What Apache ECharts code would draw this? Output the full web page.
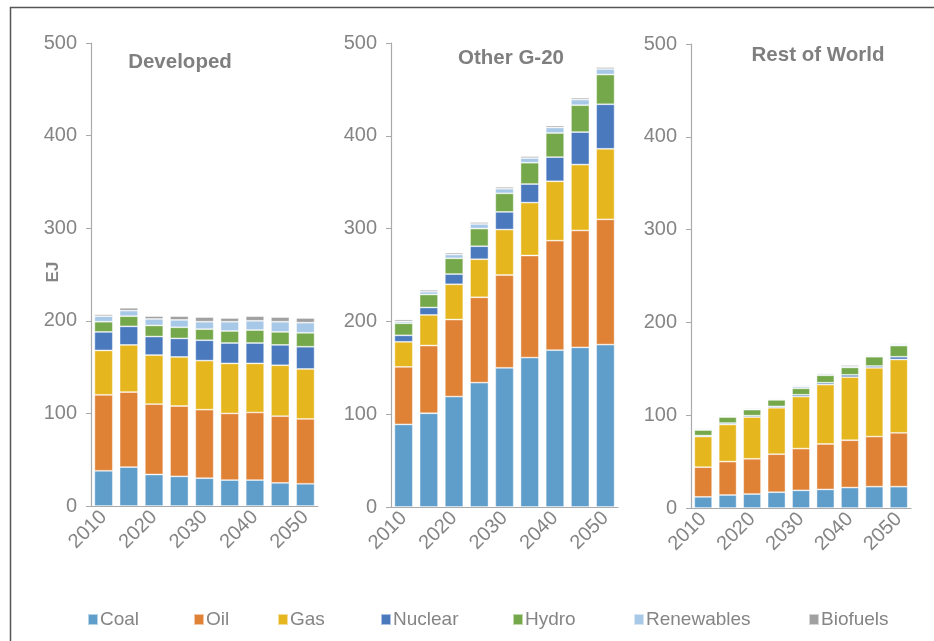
<!DOCTYPE html>
<html>
<head>
<meta charset="utf-8">
<script src="https://cdn.jsdelivr.net/npm/echarts@6/dist/echarts.min.js"></script>
<style>html,body{margin:0;padding:0;background:#fff}#c{width:934px;height:641px}</style>
</head>
<body>
<div id="c"></div>
<script>
const years = ['2010','2015','2020','2025','2030','2035','2040','2045','2050'];
const fuels = ['Coal','Oil','Gas','Nuclear','Hydro','Renewables','Biofuels'];
const panelTitles = ['Developed','Other G-20','Rest of World'];
const yTicks = [0,100,200,300,400,500];

// Developed
const devCoal = [38,42,34,32,30,28,28,25,24];
const devOil = [82,81,76,76,74,72,73,72,70];
const devGas = [48,51,53,53,53,54,53,55,54];
const devNuclear = [20,20,20,20,22,22,22,22,24];
const devHydro = [11,11,12,12,12,13,14,14,15];
const devRenew = [6,6,7,8,8,10,10,11,11];
const devBio = [2,3,3,4,5,4,5,5,5];

// Other G-20
const g20Coal = [89,101,119,134,150,161,169,172,175];
const g20Oil = [62,73,83,92,100,110,118,126,135];
const g20Gas = [27,33,38,41,49,57,64,71,76];
const g20Nuclear = [7,8,11,14,19,20,26,35,48];
const g20Hydro = [13,14,17,19,20,23,26,29,32];
const g20Renew = [2,3,4,5,5,5,6,6,6];
const g20Bio = [2,2,2,2,2,2,2,2,2];

// Rest of World
const rowCoal = [12,14,15,17,19,20,22,23,23];
const rowOil = [32,36,38,41,45,49,51,54,58];
const rowGas = [33,40,45,50,56,64,68,74,79];
const rowNuclear = [1,1.5,1.5,1.5,2,2,2.5,2,3];
const rowHydro = [6,6.5,6.5,7,7,8,8,10,12];
const rowRenew = [1,1,1,1,2,1.5,1.5,1,1.5];
const rowBio = [1,1,1,1,1,1,1.5,1,1];

const panels = [
  [devCoal,devOil,devGas,devNuclear,devHydro,devRenew,devBio],
  [g20Coal,g20Oil,g20Gas,g20Nuclear,g20Hydro,g20Renew,g20Bio],
  [rowCoal,rowOil,rowGas,rowNuclear,rowHydro,rowRenew,rowBio]
];
const colors = ['#5f9dca','#df8236','#e6b61f','#4a79be','#75a84b','#a8c8e7','#a0a0a0'];

const FONT = '"Liberation Sans", Arial, sans-serif';
const grey = '#858585';
const grids = [
  {left: 91, top: 43, width: 227, height: 463},
  {left: 391, top: 43, width: 227, height: 464},
  {left: 691, top: 44, width: 220, height: 464}
];
const titlePos = [[180,62],[511,58],[818,55]];
const legendX = [87,193,277,380,512,633,808];

const xAxes = grids.map((g,i)=>({
  type:'category', gridIndex:i, data: years,
  axisLine:{lineStyle:{color:'#aaaaaa', width:1.2}},
  axisTick:{alignWithLabel:true, interval:0, length:5, lineStyle:{color:'#aaaaaa'}},
  axisLabel:{interval:1, rotate:45, fontSize:20, color:grey, fontFamily:FONT, margin:8}
}));
const yAxes = grids.map((g,i)=>({
  type:'value', gridIndex:i, min:yTicks[0], max:yTicks[yTicks.length-1], interval:100,
  splitLine:{show:false},
  axisLine:{show:true, lineStyle:{color:'#aaaaaa', width:1.2}},
  axisTick:{show:true, length:5, lineStyle:{color:'#aaaaaa'}},
  axisLabel:{fontSize:20, color:grey, fontFamily:FONT, margin:14}
}));

const series = [];
panels.forEach((p,pi)=>{
  p.forEach((arr,fi)=>{
    series.push({
      type:'bar', name:fuels[fi], stack:'s'+pi, xAxisIndex:pi, yAxisIndex:pi,
      data:arr, barCategoryGap:'27%',
      itemStyle:{color:colors[fi], borderColor:'rgba(255,255,255,0.55)', borderWidth:0.8},
      emphasis:{disabled:true}
    });
  });
});

const legends = fuels.map((f,i)=>({
  data:[f], left:legendX[i], top:610, itemWidth:10, itemHeight:11, icon:'rect',
  padding:0, selectedMode:false,
  textStyle:{fontSize:19, color:grey, fontFamily:FONT, padding:[0,0,0,-3]}
}));

const chart = echarts.init(document.getElementById('c'));
chart.setOption({
  animation:false,
  color: colors,
  grid: grids,
  xAxis: xAxes,
  yAxis: yAxes,
  legend: legends,
  graphic: [
    {type:'polyline', shape:{points:[[10.5,700],[10.5,7.5],[1000,7.5]]}, style:{stroke:'#555', lineWidth:1.5, fill:null}, silent:true},
    {type:'text', x:53, y:272, rotation:Math.PI/2,
     style:{text:'EJ', font:'bold 17px '+FONT, fill:grey, textAlign:'center', textVerticalAlign:'middle'}}
  ].concat(panelTitles.map((t,i)=>({
    type:'text', x:titlePos[i][0], y:titlePos[i][1],
    style:{text:t, font:'bold 20.5px '+FONT, fill:'#7f7f7f', textAlign:'center', textVerticalAlign:'middle'}
  }))),
  series: series
});
</script>
</body>
</html>
